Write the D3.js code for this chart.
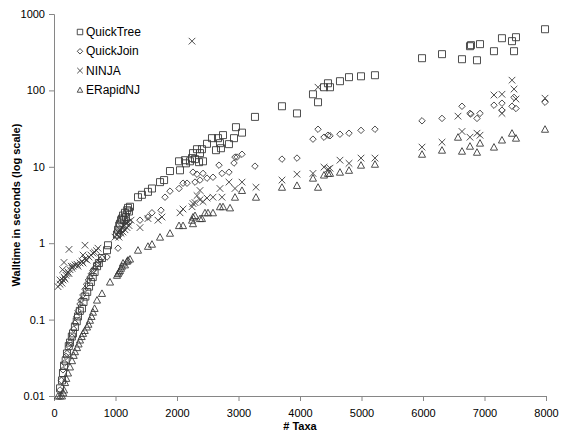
<!DOCTYPE html>
<html>
<head>
<meta charset="utf-8">
<title>Walltime vs taxa</title>
<script src="https://d3js.org/d3.v7.min.js"></script>
<style>
  body { margin: 0; background: #fff; }
  text { font-family: "Liberation Sans", Arial, sans-serif; fill: #000; }
</style>
</head>
<body>
<div id="chart"></div>
<script>
// series data: [taxa, seconds]
var quickTree = [
  [98,0.0126],[130,0.016],[146,0.02],[163,0.025],[190,0.029],[211,0.036],[240,0.045],[260,0.05],
  [290,0.06],[309,0.066],[340,0.08],[370,0.095],[390,0.11],[420,0.13],[455,0.14],[480,0.17],
  [510,0.2],[540,0.23],[570,0.27],[600,0.31],[630,0.36],[660,0.42],[700,0.5],[730,0.55],
  [780,0.64],[862,0.81],[878,0.94],
  [1024,1.3],[1041,1.5],[1060,1.7],[1073,1.8],[1090,2.0],[1105,2.1],[1122,2.3],[1140,2.0],
  [1154,2.5],[1170,2.2],[1190,2.7],[1203,2.9],[1220,2.6],[1236,3.0],
  [1366,4.0],[1430,4.3],[1528,4.7],[1593,5.2],[1724,6.3],[1790,6.7],[1886,8.8],[2033,11.8],
  [2049,9.0],[2130,12.2],[2146,11.1],[2211,11.8],[2244,13],[2260,15.1],[2293,12.6],[2325,17],
  [2358,11.5],[2374,15.1],[2406,17],[2423,11.8],[2488,20],[2569,23.7],[2634,16.5],[2667,23.7],
  [2699,20.4],[2715,17.5],[2748,26],[2845,19.8],[2927,23.7],[2959,33],[3057,28],[3268,45],
  [3707,62],[3951,50],[4211,89],[4293,70],[4390,110],[4455,124],[4488,110],[4650,132],
  [4797,149],[4992,153],[5219,158],[5984,264],[6309,298],[6634,256],[6764,379],[6780,391],
  [6878,248],[6927,403],[7154,326],[7284,482],[7447,441],[7480,326],[7512,497],[7984,632]
];
var quickJoin = [
  [98,0.012],[120,0.016],[146,0.022],[170,0.027],[195,0.033],[211,0.036],[240,0.045],[260,0.05],
  [293,0.059],[320,0.075],[341,0.09],[370,0.11],[390,0.13],[423,0.16],[440,0.18],[470,0.21],
  [504,0.25],[530,0.29],[560,0.33],[585,0.36],[610,0.4],[634,0.44],[660,0.47],[690,0.52],
  [715,0.55],[750,0.6],[780,0.64],[862,0.66],[1041,0.86],
  [1073,1.3],[1122,1.5],[1170,1.7],[1220,1.9],
  [1398,2.0],[1528,2.2],[1593,2.5],[1740,2.7],[1805,4.0],[1886,4.8],[2033,5.2],[2098,6.1],
  [2163,6.1],[2260,8.5],[2293,6.3],[2325,8.0],[2374,6.7],[2423,8.2],[2488,7.1],[2585,7.3],
  [2683,10.5],[2732,8.2],[2845,8.5],[2927,11.2],[2943,13.4],[2976,13.4],[3057,14.6],[3268,10.2],
  [3707,12.6],[3951,13],[4211,23],[4293,31],[4390,24.4],[4455,25.9],[4488,25.5],[4650,26.7],
  [4797,27.5],[4992,30],[5219,31],[5984,40],[6309,43],[6634,62],[6764,50],[6780,49],
  [6878,43],[6927,50],[7154,64],[7284,68],[7284,55],[7447,62],[7480,81],[7512,58],[7984,70]
];
var ninja = [
  [65,0.27],[98,0.29],[98,0.33],[130,0.3],[146,0.33],[163,0.36],[180,0.34],[195,0.38],
  [211,0.4],[228,0.42],[244,0.4],[260,0.45],[293,0.47],[309,0.5],[341,0.52],[374,0.53],
  [390,0.5],[423,0.55],[455,0.58],[472,0.55],[504,0.62],[537,0.6],[570,0.66],[600,0.7],
  [634,0.74],[660,0.76],[690,0.8],[715,0.86],[163,0.56],[244,0.83],[504,0.94],[280,0.5],
  [140,0.45],[472,0.7],
  [992,1.2],[1024,1.3],[1041,1.4],[1057,1.2],[1073,1.5],[1090,1.35],[1105,1.6],[1122,1.4],
  [1138,1.7],[1154,1.5],[1170,1.8],[1187,1.6],[1203,1.9],[1220,1.7],[1252,2.0],
  [1398,1.6],[1528,2.1],[1691,2.0],[1756,2.2],[2049,2.5],[2098,2.8],[2244,3.0],[2260,3.3],
  [2293,3.4],[2325,4.2],[2374,3.7],[2374,4.9],[2423,3.5],[2488,3.9],[2585,4.0],[2699,5.2],
  [2732,4.0],[2845,6.3],[2943,5.2],[3057,6.3],[3284,5.4],[3707,6.7],[3951,8.0],[2244,441],
  [4211,8.2],[4293,110],[4390,9.9],[4455,9.3],[4488,9.6],[4650,12.2],[4797,11.1],[4992,13],
  [5219,13],[5984,18.1],[6309,21],[6569,46],[6634,29],[6764,24.4],[6878,27.5],[6927,25.9],
  [7154,87],[7284,89],[7284,50],[7447,136],[7480,104],[7512,77],[7984,79]
];
var eRapidNJ = [
  [65,0.01],[98,0.01],[130,0.01],[150,0.011],[163,0.012],[180,0.015],[200,0.017],[228,0.02],
  [260,0.024],[293,0.029],[320,0.034],[341,0.038],[374,0.043],[400,0.048],[423,0.054],
  [450,0.06],[472,0.066],[500,0.072],[537,0.08],[560,0.087],[585,0.098],[610,0.11],
  [634,0.125],[660,0.14],[699,0.18],[780,0.22],[911,0.31],
  [1024,0.38],[1041,0.4],[1057,0.42],[1073,0.44],[1090,0.47],[1105,0.5],[1122,0.55],
  [1154,0.52],[1187,0.58],[1203,0.6],[1236,0.62],
  [1366,0.81],[1528,0.91],[1593,0.97],[1724,1.2],[1886,1.35],[2033,1.7],[2098,1.7],
  [2244,2.0],[2260,2.2],[2260,1.8],[2293,2.3],[2374,2.1],[2406,2.1],[2455,2.5],[2504,2.5],
  [2585,2.5],[2699,3.0],[2748,3.0],[2862,2.9],[2943,4.0],[3057,4.9],[3284,4.0],[3707,5.4],
  [3951,5.7],[4211,7.1],[4293,5.4],[4390,7.8],[4455,8.2],[4488,8.2],[4650,8.5],[4797,9.0],
  [4992,10.5],[5219,10.8],[5984,14.6],[6309,16.5],[6569,24.4],[6634,16],[6764,18.6],
  [6878,15.5],[6927,20.4],[7154,18.1],[7284,22.4],[7447,27.5],[7512,23.7],[7984,31]
];

var seriesNames = ["QuickTree", "QuickJoin", "NINJA", "ERapidNJ"];
var xTicks = [0, 1000, 2000, 3000, 4000, 5000, 6000, 7000, 8000];
var yTicks = [0.01, 0.1, 1, 10, 100, 1000];

var width = 572, height = 439;
var x = d3.scaleLinear().domain([0, 8000]).range([54, 546]);
var y = d3.scaleLog().domain([0.01, 1000]).range([396, 14]);

// marker shapes (Excel-like)
var diamond = { draw: function (c, s) { var r = Math.sqrt(s) / 2;
  c.moveTo(0, -r); c.lineTo(r, 0); c.lineTo(0, r); c.lineTo(-r, 0); c.closePath(); } };
var cross = { draw: function (c, s) { var r = Math.sqrt(s) / 2;
  c.moveTo(-r, -r); c.lineTo(r, r); c.moveTo(-r, r); c.lineTo(r, -r); } };
var tri = { draw: function (c, s) { var r = Math.sqrt(s) / 2;
  c.moveTo(0, -r); c.lineTo(r, r * 0.85); c.lineTo(-r, r * 0.85); c.closePath(); } };

var series = [
  { name: seriesNames[0], data: quickTree, sym: d3.symbol().type(d3.symbolSquare).size(49) },
  { name: seriesNames[1], data: quickJoin, sym: d3.symbol().type(diamond).size(42) },
  { name: seriesNames[2], data: ninja, sym: d3.symbol().type(cross).size(44) },
  { name: seriesNames[3], data: eRapidNJ, sym: d3.symbol().type(tri).size(50) }
];

var svg = d3.select("#chart").append("svg")
  .attr("width", width).attr("height", height);

// axes
var xAxis = svg.append("g").attr("transform", "translate(0,396)")
  .call(d3.axisBottom(x).tickValues(xTicks).tickSize(5).tickPadding(8).tickFormat(d3.format("d")));
var yAxis = svg.append("g").attr("transform", "translate(54,0)")
  .call(d3.axisLeft(y).tickValues(yTicks).tickSize(5).tickPadding(4).tickFormat(function (d) { return String(d); }));
[xAxis, yAxis].forEach(function (g) {
  g.select(".domain").attr("stroke", "#868686");
  g.selectAll(".tick line").attr("stroke", "#868686");
  g.selectAll("text").style("font-size", "11px").style("font-family", "Liberation Sans, Arial, sans-serif");
});

svg.append("text").attr("x", 300).attr("y", 430).attr("text-anchor", "middle")
  .style("font-size", "11px").style("font-weight", "bold").text("# Taxa");
svg.append("text").attr("transform", "translate(20,205) rotate(-90)").attr("text-anchor", "middle")
  .style("font-size", "11px").style("font-weight", "bold").text("Walltime in seconds (log scale)");

// points
series.forEach(function (s) {
  svg.append("g").selectAll("path").data(s.data).enter().append("path")
    .attr("transform", function (d) { return "translate(" + x(d[0]) + "," + y(d[1]) + ")"; })
    .attr("d", s.sym)
    .attr("fill", "none").attr("stroke", "#3a3a3a").attr("stroke-width", 0.9);
});

// legend
var legend = svg.append("g").attr("transform", "translate(80,32)");
series.forEach(function (s, i) {
  var g = legend.append("g").attr("transform", "translate(0," + (i * 19.3) + ")");
  g.append("path").attr("d", s.sym.size(30)())
    .attr("fill", "none").attr("stroke", "#3a3a3a").attr("stroke-width", 0.9);
  g.append("text").attr("x", 6).attr("y", 4).style("font-size", "12px").text(s.name);
});
</script>
</body>
</html>
